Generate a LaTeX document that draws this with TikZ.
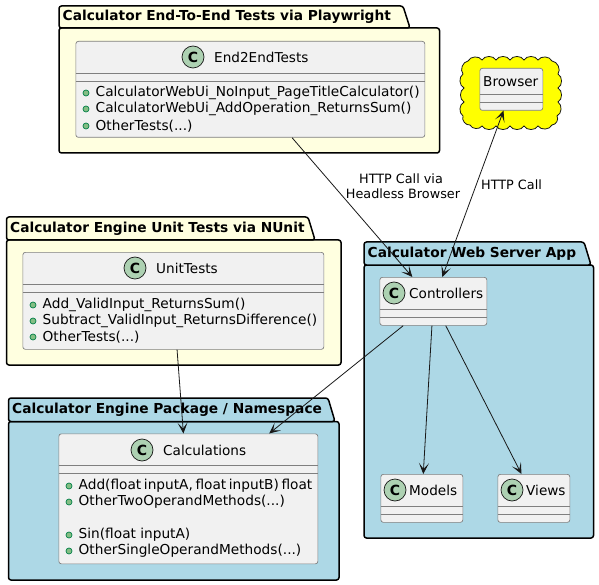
\documentclass[tikz,border=0pt]{standalone}
\usepackage{fontspec}
\setmainfont{DejaVu Sans}
\usetikzlibrary{arrows.meta}

\definecolor{classfill}{HTML}{F1F1F1}
\definecolor{classline}{HTML}{7F7F7F}
\definecolor{inkline}{HTML}{181818}
\definecolor{spotfill}{HTML}{ADD1B2}
\definecolor{dotfill}{HTML}{84BE84}
\definecolor{dotline}{HTML}{038048}
\definecolor{paleyellow}{HTML}{FFFFE0}
\definecolor{paleblue}{HTML}{ADD8E6}
\definecolor{cloudfill}{HTML}{FFFF00}

\tikzset{
  classbox/.style={draw=classline,fill=classfill,line width=0.7pt,rounded corners=2.5pt,
    anchor=north west,inner sep=0pt},
  divider/.style={draw=classline,line width=0.7pt},
  spot/.style={circle,draw=inkline,fill=spotfill,line width=0.7pt,minimum size=22pt,inner sep=0pt,
    font=\fontsize{14}{14}\selectfont\bfseries},
  classname/.style={anchor=west,inner sep=0pt,font=\fontsize{13.6}{16}\selectfont},
  member/.style={anchor=west,inner sep=0pt,font=\fontsize{13.7}{16}\selectfont},
  memberdot/.style={draw=dotline,fill=dotfill,line width=0.7pt},
  pkgline/.style={draw=black,line width=1.5pt,rounded corners=2.5pt},
  pkgtitle/.style={anchor=west,inner sep=0pt,font=\fontsize{13.75}{16}\selectfont\bfseries},
  linktext/.style={inner sep=0pt,font=\fontsize{12.8}{15}\selectfont},
  headtip/.tip={Stealth[length=11pt,width=10pt,inset=6pt]},
  link/.style={draw=inkline,line width=0.8pt,-headtip},
}

\begin{document}
\begin{tikzpicture}[x=1pt,y=-1pt]
    \path[use as bounding box] (0,0) rectangle (599,585);
    % Packages.
    \foreach \xa/\ya/\yb/\xt/\xb/\yc/\colr/\txt in {
      59/6/28/410/439.5/153/paleyellow/{Calculator End-To-End Tests via Playwright},
      6.5/217/240/315/341/365/paleyellow/{Calculator Engine Unit Tests via NUnit},
      8.5/398/421.5/335/339/580/paleblue/{Calculator Engine Package / Namespace},
      364/242/265/591/593.5/538/paleblue/{Calculator Web Server App}} {
      \filldraw[pkgline,fill=\colr] (\xa,\yb) rectangle (\xb,\yc);
      \filldraw[pkgline,fill=\colr] (\xa,\yb) -- (\xa,\ya) -- (\xt-7,\ya) -- (\xt,\yb) -- cycle;
      \node[pkgtitle] at (\xa+3.5,\ya/2+\yb/2) {\txt};
    }
    % Cloud.
    \filldraw[draw=inkline,fill=cloudfill,line width=0.8pt] (468,61)
      foreach \px/\py in {482/60,496/60,510/60,524/60,538/60,552/61,558/74,558/88,558/102,557/116,
        552/125,538/126,524/126,510/126,496/126,482/126,470/125,463/116,464/102,464/88,463/74,468/61} {
        to[bend left=60] (\px,\py)
      } -- cycle;
    % Classes.
    \node[classbox,minimum width=349pt,minimum height=96pt] (end2end) at (75.5,41) {};
    \node[classbox,minimum width=301pt,minimum height=97pt] (unittests) at (22.5,252) {};
    \node[classbox,minimum width=259pt,minimum height=130pt] (calculations) at (58.5,433.5) {};
    \node[classbox,minimum width=63pt,minimum height=42pt] (browser) at (479.5,68) {};
    \node[classbox,minimum width=107pt,minimum height=48pt] (controllers) at (379.5,277) {};
    \node[classbox,minimum width=82pt,minimum height=48pt] (models) at (380.5,474) {};
    \node[classbox,minimum width=72pt,minimum height=48pt] (views) at (497.5,474) {};
    % Dividers.
    \foreach \bx/\ya/\yb in {end2end/73.5/81.5, unittests/284.5/292.5, calculations/465.5/473.5,
      browser/94.5/102.5, controllers/309/317, models/506/514, views/506/514} {
      \draw[divider] (\bx.west |- 0,\ya) -- (\bx.east |- 0,\ya);
      \draw[divider] (\bx.west |- 0,\yb) -- (\bx.east |- 0,\yb);
    }
    % Headers.
    \foreach \cx/\cy/\tx/\txt in {193/57/214/End2EndTests, 135/268/156/UnitTests, 142/450/163/Calculations,
      394/293/409/Controllers, 395/490/409/Models, 512/490/526/Views} {
      \node[spot] at (\cx,\cy) {C};
      \node[classname] at (\tx,\cy) {\txt};
    }
    \node[classname] at (483,81.5) {Browser};
    % Members.
    \foreach \dx/\my/\txt in {
      86/93/{CalculatorWebUi\_NoInput\_PageTitleCalculator()},
      86/109/{CalculatorWebUi\_AddOperation\_ReturnsSum()},
      86/126/{OtherTests(...)},
      33/305/{Add\_ValidInput\_ReturnsSum()},
      33/321/{Subtract\_ValidInput\_ReturnsDifference()},
      33/337/{OtherTests(...)},
      69/486/{\spaceskip=2.6pt Add(float inputA, float inputB) float},
      69/502/{OtherTwoOperandMethods(...)},
      69/535/{Sin(float inputA)},
      69/551/{OtherSingleOperandMethods(...)}} {
      \filldraw[memberdot] (\dx,\my) circle (3pt);
      \node[member] at (\dx+9.5,\my) {\txt};
    }
    % Links.
    \draw[link] (end2end) -- (controllers);
    \draw[link,headtip-headtip] (browser) -- (controllers);
    \draw[link] (unittests) -- (calculations);
    \draw[link] (controllers) -- (calculations);
    \draw[link] (controllers) -- (models);
    \draw[link] (controllers) -- (views);
    % Link labels.
    \node[linktext] (viahttp) at (401,179) {HTTP Call via};
    \node[linktext] (viaheadless) at (403,194) {Headless Browser};
    \node[linktext] (callhttp) at (511.5,185) {HTTP Call};
\end{tikzpicture}
\end{document}
